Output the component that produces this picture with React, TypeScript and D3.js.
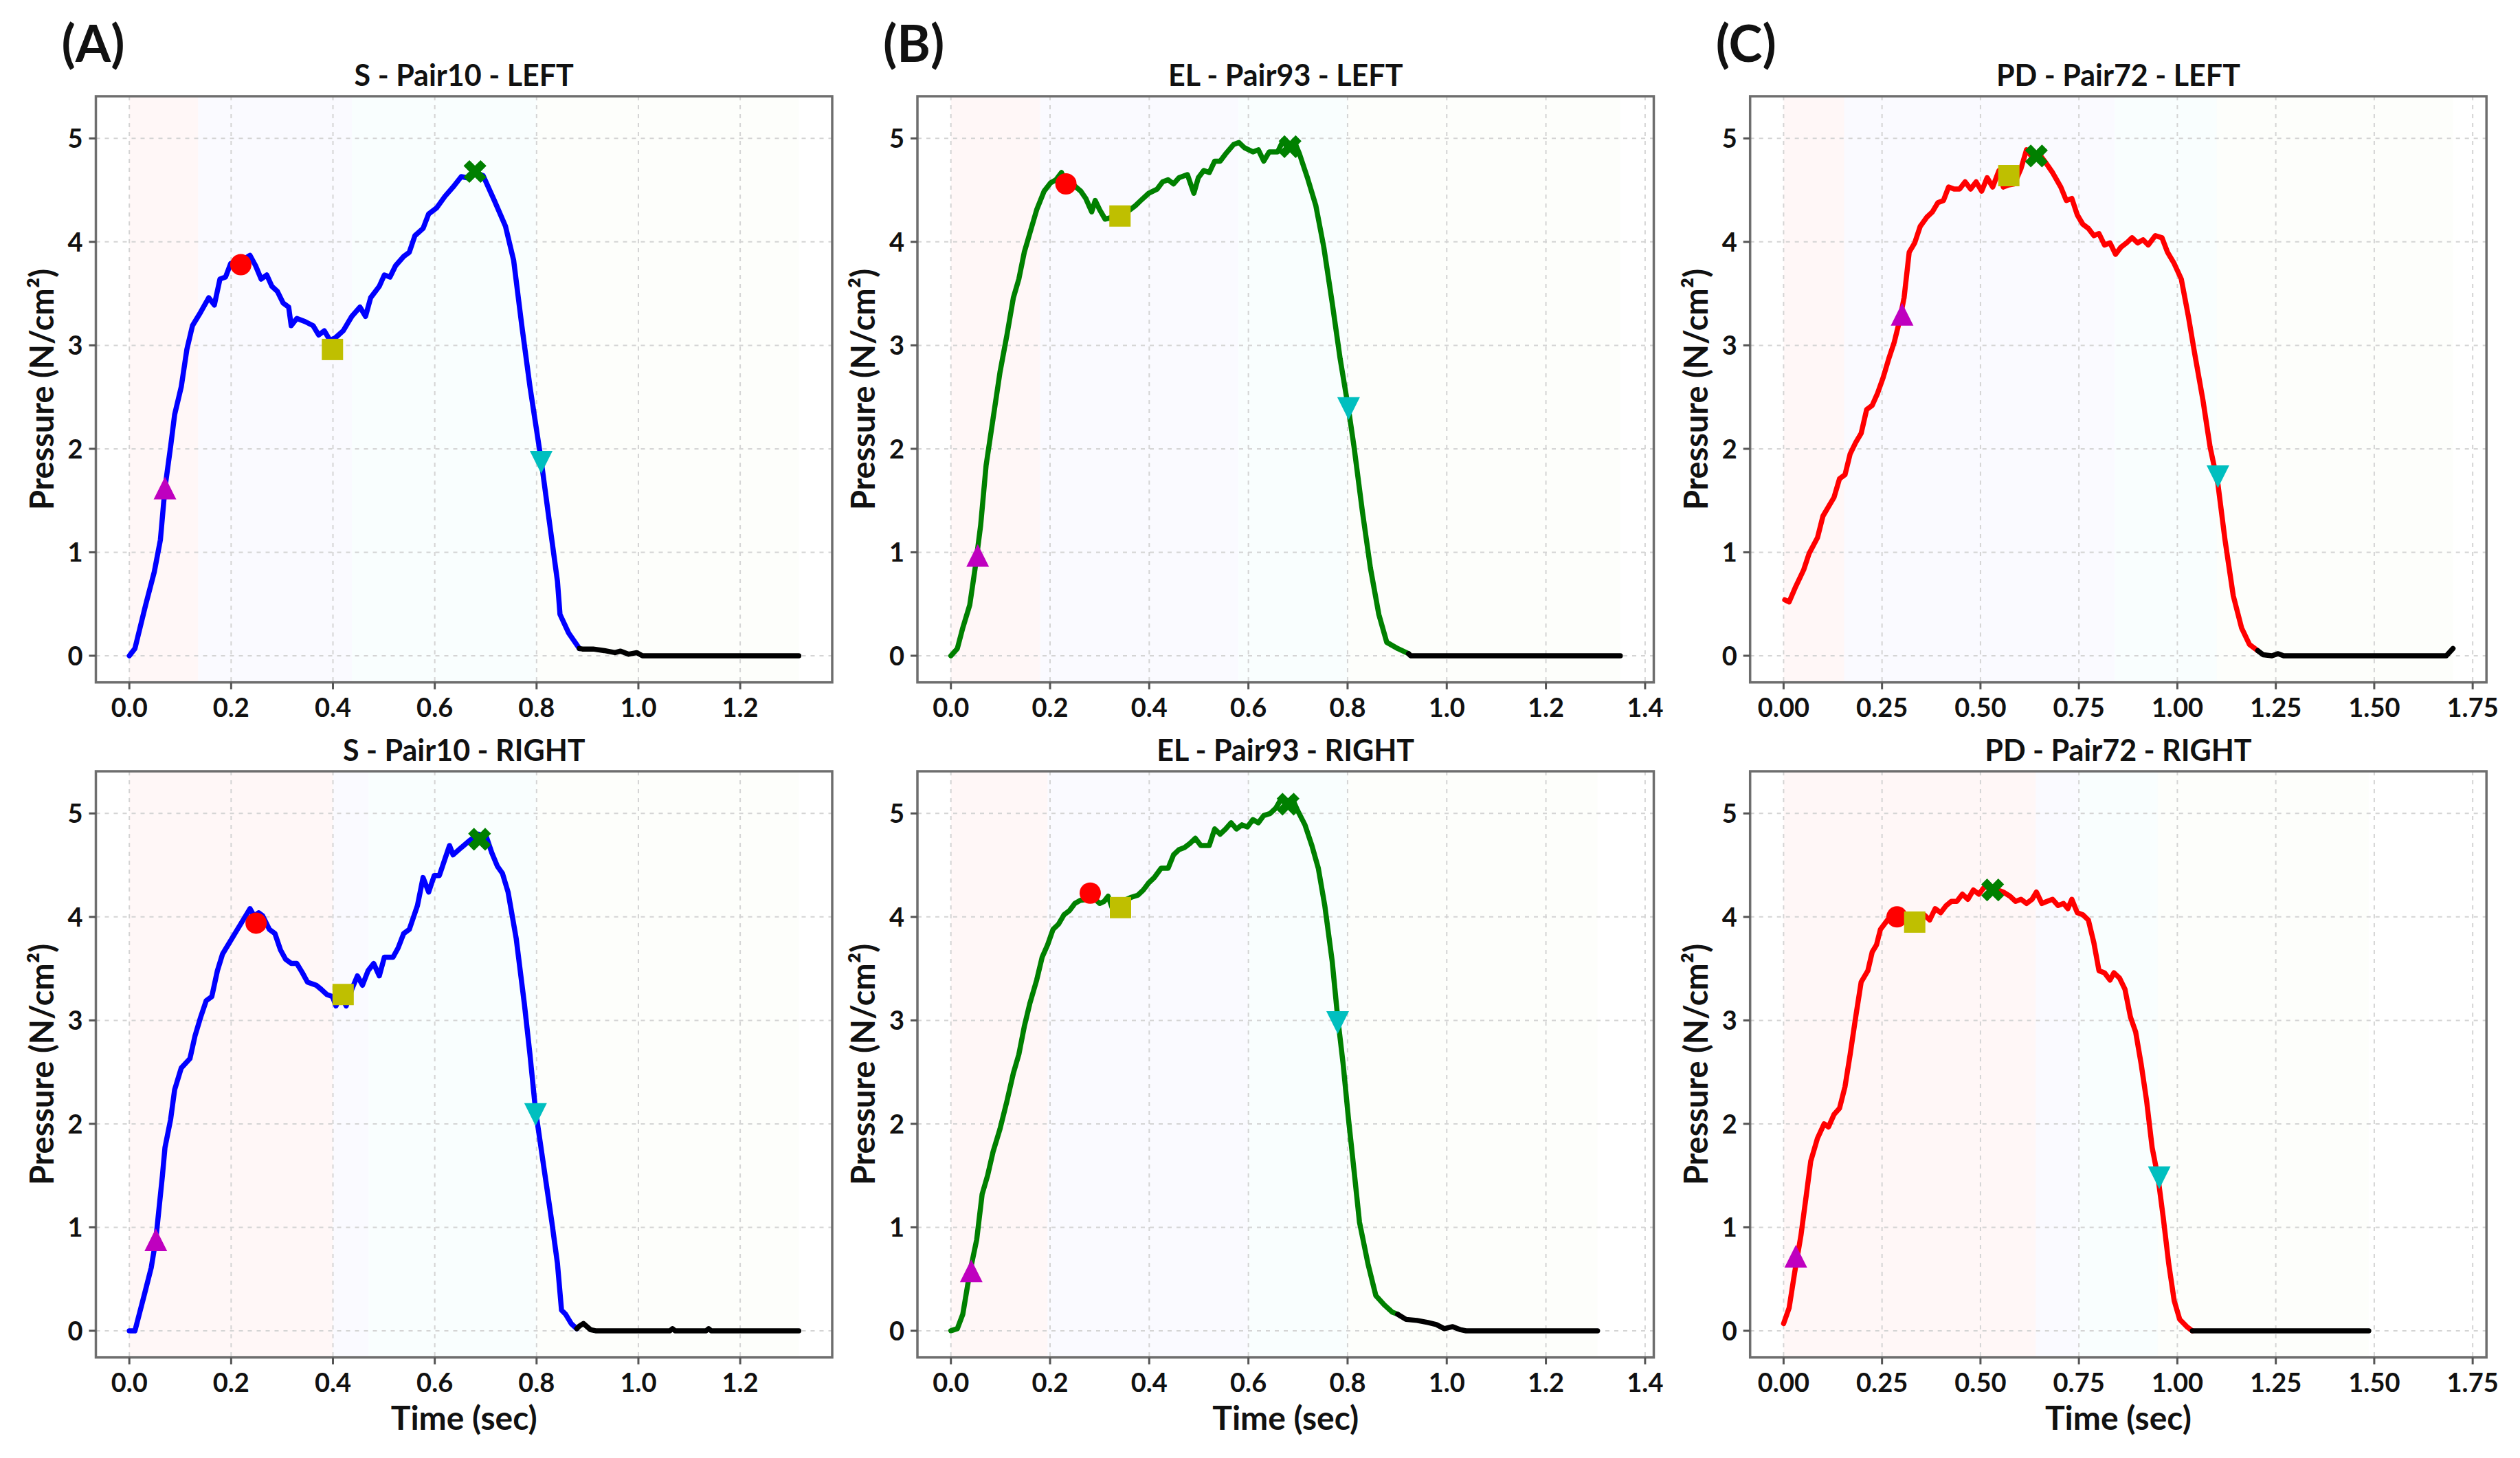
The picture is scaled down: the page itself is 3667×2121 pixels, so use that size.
import React from "react";
import * as d3 from "d3";

type Pt = [number, number];

// ---------- DATA ----------
const PANEL_LETTERS = ["(A)", "(B)", "(C)"];
const TITLES = [
  ["S - Pair10 - LEFT", "S - Pair10 - RIGHT"],
  ["EL - Pair93 - LEFT", "EL - Pair93 - RIGHT"],
  ["PD - Pair72 - LEFT", "PD - Pair72 - RIGHT"],
];
const LINE_COLORS = ["#0000ff", "#008000", "#ff0000"];
const Y_TICKS = [0, 1, 2, 3, 4, 5];
const X_TICKS_A = [0, 0.2, 0.4, 0.6, 0.8, 1.0, 1.2];
const X_TICKS_B = [0, 0.2, 0.4, 0.6, 0.8, 1.0, 1.2, 1.4];
const X_TICKS_C = [0, 0.25, 0.5, 0.75, 1.0, 1.25, 1.5, 1.75];

const A_LEFT_ACTIVE: Pt[] = [[0,0],[0.011,0.07],[0.032,0.49],[0.049,0.81],[0.061,1.12],[0.07,1.62],[0.081,2.02],[0.089,2.33],[0.102,2.6],[0.113,2.96],[0.124,3.19],[0.14,3.32],[0.156,3.46],[0.167,3.39],[0.178,3.64],[0.189,3.66],[0.199,3.79],[0.221,3.82],[0.237,3.87],[0.248,3.77],[0.259,3.64],[0.27,3.68],[0.28,3.57],[0.291,3.52],[0.302,3.41],[0.313,3.37],[0.318,3.19],[0.329,3.26],[0.345,3.23],[0.361,3.19],[0.372,3.1],[0.383,3.14],[0.394,3.05],[0.404,3.07],[0.42,3.14],[0.437,3.28],[0.453,3.37],[0.464,3.28],[0.474,3.46],[0.491,3.57],[0.501,3.68],[0.512,3.66],[0.523,3.77],[0.539,3.86],[0.55,3.9],[0.561,4.06],[0.577,4.13],[0.588,4.27],[0.604,4.33],[0.62,4.44],[0.636,4.53],[0.652,4.63],[0.663,4.62],[0.679,4.67],[0.695,4.64],[0.717,4.4],[0.739,4.15],[0.755,3.82],[0.771,3.19],[0.787,2.6],[0.809,1.89],[0.825,1.3],[0.841,0.72],[0.846,0.4],[0.863,0.22],[0.884,0.07]];
const A_LEFT_REST: Pt[] = [[0.884,0.07],[0.89,0.065],[0.911,0.065],[0.933,0.05],[0.954,0.03],[0.965,0.045],[0.981,0.015],[0.997,0.03],[1.008,0],[1.315,0]];
const A_RIGHT_ACTIVE: Pt[] = [[0,0],[0.011,0],[0.029,0.34],[0.043,0.61],[0.052,0.88],[0.065,1.5],[0.07,1.77],[0.081,2.04],[0.089,2.33],[0.102,2.54],[0.119,2.63],[0.129,2.85],[0.14,3.03],[0.151,3.19],[0.162,3.23],[0.173,3.48],[0.183,3.64],[0.194,3.73],[0.21,3.86],[0.226,3.99],[0.237,4.08],[0.245,4.01],[0.254,4.04],[0.262,4.01],[0.275,3.88],[0.286,3.84],[0.297,3.68],[0.307,3.59],[0.318,3.55],[0.329,3.55],[0.34,3.46],[0.35,3.37],[0.367,3.34],[0.377,3.3],[0.388,3.25],[0.399,3.23],[0.406,3.14],[0.415,3.25],[0.426,3.14],[0.437,3.3],[0.448,3.43],[0.458,3.34],[0.469,3.48],[0.48,3.55],[0.491,3.43],[0.501,3.61],[0.518,3.61],[0.528,3.7],[0.539,3.84],[0.55,3.88],[0.566,4.11],[0.577,4.38],[0.588,4.24],[0.599,4.4],[0.609,4.4],[0.62,4.56],[0.629,4.69],[0.636,4.6],[0.652,4.67],[0.669,4.74],[0.685,4.8],[0.701,4.78],[0.712,4.62],[0.723,4.49],[0.733,4.42],[0.744,4.24],[0.76,3.79],[0.776,3.16],[0.787,2.67],[0.798,2.13],[0.814,1.59],[0.83,1.05],[0.841,0.65],[0.849,0.2],[0.857,0.16],[0.868,0.07],[0.879,0.02]];
const A_RIGHT_REST: Pt[] = [[0.879,0.02],[0.884,0.045],[0.892,0.07],[0.906,0.01],[0.916,0],[1.062,0],[1.067,0.02],[1.072,0],[1.133,0],[1.138,0.02],[1.143,0],[1.315,0]];

const B_LEFT_ACTIVE: Pt[] = [[0,0],[0.013,0.07],[0.024,0.27],[0.038,0.49],[0.049,0.85],[0.06,1.26],[0.071,1.84],[0.085,2.29],[0.099,2.74],[0.113,3.1],[0.126,3.46],[0.137,3.64],[0.148,3.9],[0.159,4.08],[0.173,4.31],[0.188,4.49],[0.201,4.57],[0.212,4.6],[0.223,4.67],[0.232,4.58],[0.245,4.56],[0.262,4.49],[0.272,4.42],[0.284,4.29],[0.291,4.4],[0.3,4.31],[0.311,4.22],[0.328,4.24],[0.344,4.24],[0.361,4.31],[0.372,4.35],[0.383,4.4],[0.399,4.47],[0.416,4.51],[0.427,4.58],[0.438,4.6],[0.449,4.56],[0.46,4.62],[0.477,4.65],[0.49,4.47],[0.499,4.62],[0.51,4.69],[0.521,4.67],[0.532,4.78],[0.543,4.78],[0.554,4.85],[0.57,4.94],[0.581,4.96],[0.592,4.91],[0.609,4.87],[0.62,4.89],[0.631,4.78],[0.642,4.87],[0.659,4.87],[0.67,4.98],[0.681,4.89],[0.692,4.98],[0.703,4.85],[0.719,4.62],[0.736,4.35],[0.752,3.95],[0.769,3.41],[0.785,2.87],[0.802,2.38],[0.813,2.02],[0.83,1.39],[0.846,0.85],[0.863,0.4],[0.879,0.13],[0.901,0.07],[0.923,0.02]];
const B_LEFT_REST: Pt[] = [[0.923,0.02],[0.927,0],[1.35,0]];
const B_RIGHT_ACTIVE: Pt[] = [[0,0],[0.013,0.02],[0.024,0.16],[0.038,0.56],[0.052,0.88],[0.063,1.32],[0.074,1.5],[0.085,1.73],[0.099,1.95],[0.113,2.22],[0.126,2.49],[0.137,2.67],[0.148,2.94],[0.159,3.16],[0.173,3.39],[0.184,3.61],[0.195,3.73],[0.206,3.88],[0.217,3.93],[0.228,4.02],[0.239,4.06],[0.25,4.13],[0.261,4.16],[0.276,4.17],[0.291,4.17],[0.3,4.13],[0.309,4.15],[0.317,4.2],[0.328,4.05],[0.339,4.15],[0.35,4.16],[0.364,4.19],[0.377,4.21],[0.388,4.26],[0.399,4.33],[0.41,4.38],[0.424,4.47],[0.438,4.47],[0.449,4.6],[0.46,4.65],[0.471,4.67],[0.482,4.71],[0.493,4.76],[0.504,4.69],[0.521,4.69],[0.532,4.85],[0.543,4.8],[0.554,4.85],[0.565,4.91],[0.576,4.85],[0.587,4.89],[0.598,4.87],[0.609,4.94],[0.62,4.91],[0.631,4.98],[0.644,5.0],[0.655,5.05],[0.666,5.14],[0.677,5.09],[0.688,5.15],[0.699,5.03],[0.714,4.89],[0.728,4.69],[0.741,4.47],[0.754,4.11],[0.769,3.57],[0.78,3.03],[0.791,2.58],[0.802,2.04],[0.813,1.55],[0.824,1.05],[0.841,0.65],[0.857,0.34],[0.874,0.25],[0.89,0.18],[0.901,0.16]];
const B_RIGHT_REST: Pt[] = [[0.901,0.16],[0.918,0.11],[0.94,0.1],[0.962,0.08],[0.979,0.06],[0.995,0.02],[1.012,0.04],[1.028,0.01],[1.039,0],[1.304,0]];

const C_LEFT_ACTIVE: Pt[] = [[0.003,0.54],[0.014,0.52],[0.031,0.67],[0.051,0.83],[0.065,0.99],[0.086,1.14],[0.1,1.35],[0.114,1.44],[0.128,1.53],[0.142,1.71],[0.156,1.75],[0.169,1.95],[0.183,2.06],[0.197,2.15],[0.211,2.38],[0.225,2.42],[0.239,2.54],[0.253,2.69],[0.267,2.87],[0.281,3.03],[0.294,3.23],[0.306,3.46],[0.319,3.9],[0.333,3.99],[0.347,4.15],[0.364,4.24],[0.378,4.29],[0.392,4.38],[0.406,4.4],[0.419,4.53],[0.433,4.51],[0.447,4.51],[0.461,4.58],[0.475,4.51],[0.489,4.58],[0.503,4.49],[0.517,4.62],[0.531,4.53],[0.547,4.69],[0.558,4.53],[0.572,4.55],[0.586,4.56],[0.603,4.71],[0.617,4.89],[0.631,4.82],[0.649,4.85],[0.663,4.78],[0.683,4.67],[0.704,4.53],[0.718,4.4],[0.732,4.42],[0.746,4.26],[0.76,4.17],[0.774,4.13],[0.788,4.06],[0.801,4.08],[0.815,3.97],[0.829,3.99],[0.843,3.88],[0.857,3.95],[0.871,3.99],[0.885,4.04],[0.899,3.99],[0.913,4.02],[0.926,3.97],[0.944,4.06],[0.961,4.04],[0.975,3.9],[0.992,3.79],[1.01,3.64],[1.028,3.28],[1.044,2.92],[1.065,2.47],[1.083,2.02],[1.103,1.66],[1.121,1.12],[1.142,0.58],[1.163,0.27],[1.183,0.11],[1.204,0.05]];
const C_LEFT_REST: Pt[] = [[1.204,0.05],[1.218,0.01],[1.24,0],[1.256,0.02],[1.27,0],[1.683,0],[1.7,0.07]];
const C_RIGHT_ACTIVE: Pt[] = [[0,0.07],[0.014,0.22],[0.028,0.56],[0.044,0.92],[0.058,1.32],[0.069,1.64],[0.086,1.86],[0.103,2.0],[0.114,1.97],[0.128,2.09],[0.142,2.15],[0.156,2.36],[0.169,2.67],[0.183,3.03],[0.197,3.37],[0.214,3.48],[0.225,3.66],[0.236,3.73],[0.246,3.88],[0.26,3.95],[0.274,4.02],[0.288,4.03],[0.308,3.99],[0.336,3.97],[0.357,4.02],[0.371,3.97],[0.385,4.08],[0.399,4.04],[0.413,4.11],[0.426,4.15],[0.44,4.15],[0.454,4.22],[0.468,4.17],[0.482,4.26],[0.496,4.22],[0.51,4.29],[0.528,4.28],[0.544,4.26],[0.558,4.24],[0.575,4.2],[0.589,4.15],[0.603,4.17],[0.617,4.13],[0.631,4.17],[0.642,4.24],[0.656,4.13],[0.669,4.15],[0.683,4.17],[0.697,4.11],[0.711,4.13],[0.722,4.08],[0.732,4.17],[0.746,4.04],[0.76,4.02],[0.774,3.97],[0.788,3.75],[0.801,3.48],[0.815,3.46],[0.829,3.39],[0.839,3.46],[0.853,3.41],[0.867,3.3],[0.881,3.03],[0.894,2.89],[0.908,2.58],[0.922,2.22],[0.936,1.77],[0.951,1.48],[0.964,1.1],[0.978,0.65],[0.992,0.29],[1.006,0.11],[1.024,0.04],[1.038,0]];
const C_RIGHT_REST: Pt[] = [[1.038,0],[1.486,0]];

// event markers: rise(^), first peak(o), valley(s), max peak(X), fall(v)
const A_LEFT_MARKS: (Pt | null)[] = [[0.07,1.62],[0.219,3.78],[0.399,2.96],[0.679,4.68],[0.809,1.87]];
const A_RIGHT_MARKS: (Pt | null)[] = [[0.052,0.88],[0.249,3.94],[0.42,3.25],[0.688,4.75],[0.798,2.09]];
const B_LEFT_MARKS: (Pt | null)[] = [[0.054,0.97],[0.232,4.56],[0.341,4.25],[0.684,4.92],[0.802,2.39]];
const B_RIGHT_MARKS: (Pt | null)[] = [[0.041,0.58],[0.281,4.23],[0.342,4.09],[0.68,5.09],[0.78,2.98]];
const C_LEFT_MARKS: (Pt | null)[] = [[0.301,3.3],null,[0.572,4.64],[0.642,4.83],[1.103,1.73]];
const C_RIGHT_MARKS: (Pt | null)[] = [[0.031,0.72],[0.288,4.0],[0.333,3.95],[0.531,4.26],[0.954,1.48]];

// phase background boundaries (sec)
const A_LEFT_PHASES = [0, 0.135, 0.437, 0.8, 1.315];
const A_RIGHT_PHASES = [0, 0.4, 0.47, 0.8, 1.315];
const B_LEFT_PHASES = [0, 0.18, 0.58, 0.8, 1.35];
const B_RIGHT_PHASES = [0, 0.195, 0.6, 0.8, 1.304];
const C_LEFT_PHASES = [0, 0.154, 0.84, 1.1, 1.7];
const C_RIGHT_PHASES = [0, 0.64, 0.75, 0.95, 1.486];
const PHASE_COLORS = ["#ff0000", "#3030ff", "#00c8d8", "#80c000"];
const PHASE_OPACITY = [0.03, 0.025, 0.022, 0.015];

const MARKER_COLORS = ["#bf00bf", "#ff0000", "#bfbf00", "#008000", "#00bfbf"];

// ---------- LAYOUT ----------
const W = 3667, H = 2121;
const COL_LEFT = [139.5, 1335, 2546.7];
const PANEL_W = 1071.5;
const ROW_TOP = [140, 1122];
const PANEL_H = 852.7;
const FONT = "Lato, 'Open Sans', sans-serif";

const columns = [
  { ticks: X_TICKS_A, fmt: d3.format(".1f"), panels: [
    { active: A_LEFT_ACTIVE, rest: A_LEFT_REST, marks: A_LEFT_MARKS, phases: A_LEFT_PHASES },
    { active: A_RIGHT_ACTIVE, rest: A_RIGHT_REST, marks: A_RIGHT_MARKS, phases: A_RIGHT_PHASES } ] },
  { ticks: X_TICKS_B, fmt: d3.format(".1f"), panels: [
    { active: B_LEFT_ACTIVE, rest: B_LEFT_REST, marks: B_LEFT_MARKS, phases: B_LEFT_PHASES },
    { active: B_RIGHT_ACTIVE, rest: B_RIGHT_REST, marks: B_RIGHT_MARKS, phases: B_RIGHT_PHASES } ] },
  { ticks: X_TICKS_C, fmt: d3.format(".2f"), panels: [
    { active: C_LEFT_ACTIVE, rest: C_LEFT_REST, marks: C_LEFT_MARKS, phases: C_LEFT_PHASES },
    { active: C_RIGHT_ACTIVE, rest: C_RIGHT_REST, marks: C_RIGHT_MARKS, phases: C_RIGHT_PHASES } ] },
];

const allY = columns.flatMap(c => c.panels.flatMap(p => [...p.active, ...p.rest].map(d => d[1])));
const yMax = d3.max(allY) as number;
const yMin = 0;
const yPad = (yMax - yMin) * 0.05;

function markerPath(kind: number): string {
  if (kind === 0) return "M0,-16.5L16.5,16.5L-16.5,16.5Z";
  if (kind === 4) return "M0,16.5L16.5,-16.5L-16.5,-16.5Z";
  if (kind === 1) return d3.symbol(d3.symbolCircle, Math.PI * 15.5 * 15.5)() as string;
  if (kind === 2) return d3.symbol(d3.symbolSquare, 31 * 31)() as string;
  // filled X: plus rotated 45deg
  const L = 17.5, w = 6;
  const plus: Pt[] = [[-w,-L],[w,-L],[w,-w],[L,-w],[L,w],[w,w],[w,L],[-w,L],[-w,w],[-L,w],[-L,-w],[-w,-w]];
  const c = Math.SQRT1_2;
  return "M" + plus.map(([x, y]) => `${((x - y) * c).toFixed(2)},${((x + y) * c).toFixed(2)}`).join("L") + "Z";
}

function Panel({ col, row }: { col: number; row: number }) {
  const column = columns[col];
  const panel = column.panels[row];
  const xMaxData = d3.max(column.panels.flatMap(p => [...p.active, ...p.rest].map(d => d[0]))) as number;
  const x0 = COL_LEFT[col], y0 = ROW_TOP[row];
  const x = d3.scaleLinear().domain([-0.05 * xMaxData, 1.05 * xMaxData]).range([x0, x0 + PANEL_W]);
  const y = d3.scaleLinear().domain([yMin - yPad, yMax + yPad]).range([y0 + PANEL_H, y0]);
  const line = d3.line<Pt>().x(d => x(d[0])).y(d => y(d[1]));
  const cx = x0 + PANEL_W / 2;
  return (
    <g>
      {panel.phases.slice(0, -1).map((t, i) => (
        <rect key={"ph" + i} x={x(t)} y={y0} width={x(panel.phases[i + 1]) - x(t)} height={PANEL_H}
          fill={PHASE_COLORS[i]} fillOpacity={PHASE_OPACITY[i]} />
      ))}
      {column.ticks.map(t => (
        <line key={"gx" + t} x1={x(t)} x2={x(t)} y1={y0} y2={y0 + PANEL_H} stroke="#d4d4d4" strokeWidth={2} strokeDasharray="6,7" />
      ))}
      {Y_TICKS.map(t => (
        <line key={"gy" + t} x1={x0} x2={x0 + PANEL_W} y1={y(t)} y2={y(t)} stroke="#d4d4d4" strokeWidth={2} strokeDasharray="6,7" />
      ))}
      <path d={line(panel.active) as string} fill="none" stroke={LINE_COLORS[col]} strokeWidth={7.5} strokeLinejoin="round" strokeLinecap="round" />
      <path d={line(panel.rest) as string} fill="none" stroke="#000" strokeWidth={7.5} strokeLinejoin="round" strokeLinecap="round" />
      {panel.marks.map((m, i) => m ? (
        <path key={"mk" + i} d={markerPath(i)} transform={`translate(${x(m[0])},${y(m[1])})`} fill={MARKER_COLORS[i]} />
      ) : null)}
      <rect x={x0} y={y0} width={PANEL_W} height={PANEL_H} fill="none" stroke="#6e6e6e" strokeWidth={3.5} />
      {column.ticks.map(t => (
        <g key={"tx" + t}>
          <line x1={x(t)} x2={x(t)} y1={y0 + PANEL_H} y2={y0 + PANEL_H + 10} stroke="#555" strokeWidth={3} />
          <text x={x(t)} y={y0 + PANEL_H + 50} textAnchor="middle" fontFamily={FONT} fontWeight="bold" fontSize={38} fill="#111">{column.fmt(t)}</text>
        </g>
      ))}
      {Y_TICKS.map(t => (
        <g key={"ty" + t}>
          <line x1={x0 - 10} x2={x0} y1={y(t)} y2={y(t)} stroke="#555" strokeWidth={3} />
          <text x={x0 - 19} y={y(t)} dy="0.36em" textAnchor="end" fontFamily={FONT} fontWeight="bold" fontSize={38} fill="#111">{t}</text>
        </g>
      ))}
      <text x={cx} y={y0 - 15} textAnchor="middle" fontFamily={FONT} fontWeight="bold" fontSize={43} fill="#111">{TITLES[col][row]}</text>
      <text transform={`translate(${x0 - 62},${y0 + PANEL_H / 2}) rotate(-90)`} textAnchor="middle" fontFamily={FONT} fontWeight="bold" fontSize={47} fill="#111">Pressure (N/cm²)</text>
      {row === 1 ? (
        <text x={cx} y={y0 + PANEL_H + 105} textAnchor="middle" fontFamily={FONT} fontWeight="bold" fontSize={48} fill="#111">Time (sec)</text>
      ) : null}
      {row === 0 ? (
        <text x={x0 - 50} y={90} fontFamily={FONT} fontWeight="bold" fontSize={74} fill="#111">{PANEL_LETTERS[col]}</text>
      ) : null}
    </g>
  );
}

export default function App() {
  return (
    <svg width={W} height={H} viewBox={`0 0 ${W} ${H}`} style={{ position: "absolute", left: 0, top: 0, background: "#fff" }}>
      <rect x={0} y={0} width={W} height={H} fill="#fff" />
      {[0, 1, 2].map(c => [0, 1].map(r => <Panel key={`${c}-${r}`} col={c} row={r} />))}
    </svg>
  );
}
